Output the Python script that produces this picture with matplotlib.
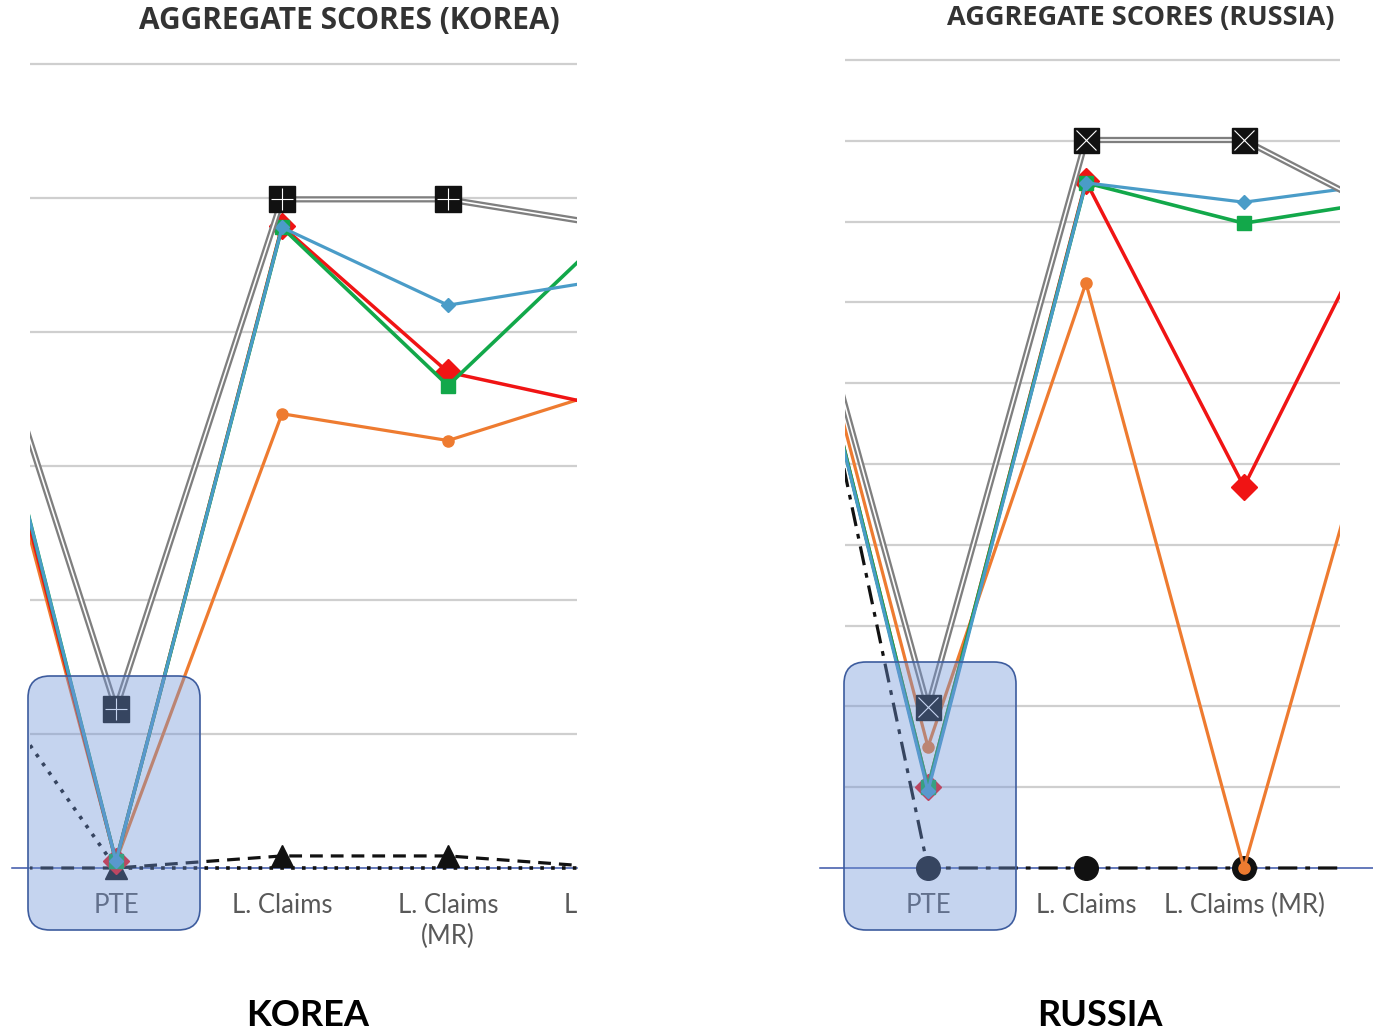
import numpy as np
import matplotlib.pyplot as plt
from matplotlib.patches import FancyBboxPatch

W, H = 1373, 1033

# categories: index -1 is the (cut off) column left of PTE
x_pos = np.arange(-1, 4)
korea_labels = ["", "PTE", "L. Claims", "L. Claims\n(MR)", "L. Claims"]
russia_labels = ["", "PTE", "L. Claims", "L. Claims (MR)", ""]

# Korea scores (one gridline = 1 unit)
korea_gray = [5.05, 1.19, 4.99, 4.99, 4.79]
korea_blue = [4.95, 0.05, 4.78, 4.20, 4.40]
korea_green = [4.95, 0.05, 4.78, 3.60, 4.78]
korea_red = [4.85, 0.05, 4.79, 3.70, 3.43]
korea_orange = [4.71, 0.05, 3.39, 3.19, 3.58]
korea_dash = [0.0, 0.0, 0.09, 0.09, 0.0]
korea_dot = [1.77, 0.0, 0.0, 0.0, 0.0]

# Russia scores
russia_gray = [9.10, 1.99, 9.01, 9.01, 8.00]
russia_blue = [8.90, 0.95, 8.48, 8.24, 8.50]
russia_green = [8.90, 1.00, 8.48, 7.98, 8.29]
russia_red = [8.90, 1.00, 8.50, 4.72, 8.63]
russia_orange = [9.00, 1.50, 7.24, 0.00, 6.88]
russia_dashdot = [9.30, 0.00, 0.00, 0.00, 0.00]

GRAY = "#7f7f7f"
BLUE = "#4a9cc8"
GREEN = "#12a84a"
RED = "#f01414"
ORANGE = "#ee7b30"
LABEL = "#595959"


def fx(px):
    return px / W


def fy(py):
    return 1 - py / H


fig = plt.figure(figsize=(W / 100, H / 100), dpi=100)


def make_panel(left, right, top, bottom, base_px, unit, xlim, n_grid):
    ax = fig.add_axes([fx(left), fy(bottom), fx(right) - fx(left), fy(top) - fy(bottom)])
    ax.set_xlim(xlim)
    ax.set_ylim((base_px - bottom) / unit, (base_px - top) / unit)
    ax.axis("off")
    for g in range(1, n_grid + 1):
        ax.axhline(g, color="#cfcfcf", lw=1.6, zorder=1)
    return ax


def gray_line(ax, y, inner_marker, ms):
    ax.plot(x_pos, y, color=GRAY, lw=4.5, zorder=7, solid_joinstyle="miter")
    ax.plot(x_pos, y, color="white", lw=1.2, zorder=7.1)
    ax.plot(x_pos, y, ls="none", marker="s", ms=ms, mfc="#111111", mec="#111111", zorder=7.2)
    ax.plot(x_pos, y, ls="none", marker=inner_marker, ms=ms - 3, mec="white", mew=0.8, zorder=7.3)


def colored_lines(ax, blue, green, red, orange):
    ax.plot(x_pos, orange, color=ORANGE, lw=2.3, marker="o", ms=8, zorder=3)
    ax.plot(x_pos, red, color=RED, lw=2.5, marker="D", ms=13, zorder=4)
    ax.plot(x_pos, green, color=GREEN, lw=2.6, marker="s", ms=10, zorder=5)
    ax.plot(x_pos, blue, color=BLUE, lw=2.3, marker="D", ms=7, zorder=6)


def cat_labels(ax, labels, y, clip_last):
    for i, (xp, lab) in enumerate(zip(x_pos, labels)):
        if not lab:
            continue
        ax.text(xp, y, lab, ha="center", va="top", color=LABEL, fontsize=18.5,
                family="Lato", linespacing=1.3,
                clip_on=(clip_last and i == len(labels) - 1))


# ---- Korea ----
k_base, k_unit = 868, 134
axk = make_panel(30, 577, 55, 945, k_base, k_unit, (-0.518, 2.777), 6)
axk.axhline(0, xmin=-18 / 547, xmax=1, color="#3a55a8", lw=1.1, zorder=2, clip_on=False)
axk.plot(x_pos, korea_dot, color="#111111", ls=(0, (1, 2)), lw=2.6, zorder=2)
axk.plot(x_pos, korea_dash, color="#111111", ls=(0, (4, 2.5)), lw=2.3, marker="^", ms=16, zorder=2.5)
colored_lines(axk, korea_blue, korea_green, korea_red, korea_orange)
gray_line(axk, korea_gray, "+", 19)
cat_labels(axk, korea_labels, (k_base - 893) / k_unit, True)

# ---- Russia ----
r_base, r_unit = 868, 80.8
axr = make_panel(845, 1340, 50, 945, r_base, r_unit, (-0.525, 2.608), 10)
axr.axhline(0, xmin=-25 / 495, xmax=528 / 495, color="#3a55a8", lw=1.1, zorder=2, clip_on=False)
axr.plot(x_pos, russia_dashdot, color="#111111", ls=(0, (6, 2.5, 1.5, 2.5)), lw=2.3,
         marker="o", ms=17, zorder=2.5)
colored_lines(axr, russia_blue, russia_green, russia_red, russia_orange)
gray_line(axr, russia_gray, "x", 18)
cat_labels(axr, russia_labels, (r_base - 893) / r_unit, False)

# translucent highlight boxes around PTE
for (l, r, t, b) in [(28, 200, 676, 930), (844, 1016, 662, 930)]:
    box = FancyBboxPatch((fx(l), fy(b)), fx(r) - fx(l), fy(t) - fy(b),
                         boxstyle="round,pad=0,rounding_size=0.016",
                         mutation_aspect=W / H, transform=fig.transFigure,
                         facecolor="#7094d9", alpha=0.4, edgecolor="none", zorder=5)
    fig.add_artist(box)
    edge = FancyBboxPatch((fx(l), fy(b)), fx(r) - fx(l), fy(t) - fy(b),
                          boxstyle="round,pad=0,rounding_size=0.016",
                          mutation_aspect=W / H, transform=fig.transFigure,
                          facecolor="none", edgecolor="#3d5c9e", lw=1.2, zorder=6)
    fig.add_artist(edge)

# titles
fig.text(fx(349), fy(21), "AGGREGATE SCORES (KOREA)", ha="center", va="center",
         fontsize=21.5, fontweight="bold", color="#333333", family="Open Sans")
fig.text(fx(1141), fy(18), "AGGREGATE SCORES (RUSSIA)", ha="center", va="center",
         fontsize=19.5, fontweight="bold", color="#333333", family="Open Sans")
fig.text(fx(308), fy(1015), "KOREA", ha="center", va="center",
         fontsize=26, fontweight="bold", color="black", family="Lato")
fig.text(fx(1100), fy(1015), "RUSSIA", ha="center", va="center",
         fontsize=26, fontweight="bold", color="black", family="Lato")

fig.savefig("out.png", dpi=100, facecolor="white")
